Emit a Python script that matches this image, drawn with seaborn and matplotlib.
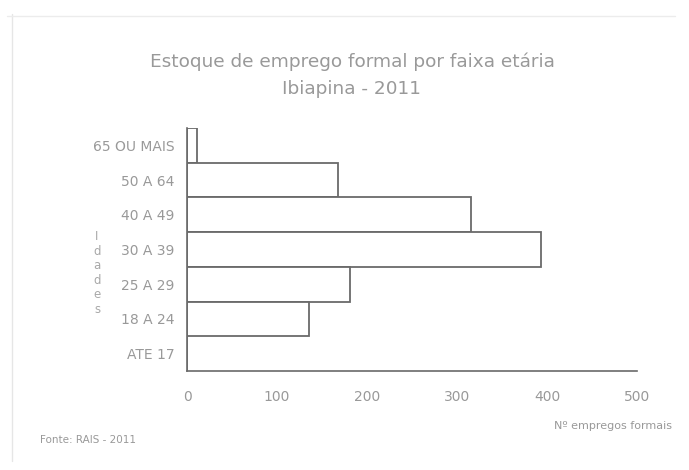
import matplotlib
matplotlib.use("Agg")
import matplotlib.pyplot as plt
import seaborn as sns
import pandas as pd

# ── Data ───────────────────────────────────────────────
faixas = ["65 OU MAIS", "50 A 64", "40 A 49", "30 A 39", "25 A 29", "18 A 24", "ATE 17"]
empregos = [11, 168, 316, 393, 181, 136, 0]
x_ticks = [0, 100, 200, 300, 400, 500]

df = pd.DataFrame({"faixa": faixas, "empregos": empregos})

sns.set_style("white")
plt.rcParams["font.family"] = ["DejaVu Sans"]
TXT = "#999999"

fig = plt.figure(figsize=(6.89, 4.70), dpi=100)
ax = fig.add_axes([187 / 689, 99 / 470, 450 / 689, 243 / 470])

sns.barplot(data=df, x="empregos", y="faixa", order=faixas, orient="h",
            color="white", edgecolor="#6a6a6a", linewidth=1.3, width=1.0, ax=ax)

ax.set_xlim(0, 500)
ax.set_xticks(x_ticks)
ax.set_xticklabels([str(t) for t in x_ticks], color=TXT, fontsize=10)
ax.tick_params(axis="x", length=0, pad=14)
ax.tick_params(axis="y", length=0, pad=9, labelsize=10, labelcolor=TXT)
ax.set_xlabel("")
ax.set_ylabel("")
for side in ["top", "right"]:
    ax.spines[side].set_visible(False)
for side in ["left", "bottom"]:
    ax.spines[side].set_color("#6a6a6a")
    ax.spines[side].set_linewidth(1.2)

# ── Texts ──────────────────────────────────────────────
fig.text(352 / 689, 1 - 62 / 470, "Estoque de emprego formal por faixa etária",
         ha="center", va="center", fontsize=13.3, color=TXT)
fig.text(352 / 689, 1 - 89 / 470, "Ibiapina - 2011", ha="center", va="center",
         fontsize=13.3, color=TXT)
fig.text(97 / 689, 1 - 273 / 470, "I\nd\na\nd\ne\ns", ha="center", va="center",
         fontsize=8.5, color="#a8a8a8", linespacing=1.15)
fig.text(40 / 689, 1 - 440 / 470, "Fonte: RAIS - 2011", ha="left", va="center",
         fontsize=7.5, color=TXT)
fig.text(672 / 689, 1 - 426 / 470, "Nº empregos formais", ha="right", va="center",
         fontsize=8, color=TXT)

# faint frame of the scanned chart area
fig.add_artist(plt.Line2D([12 / 689, 12 / 689], [0.02, 0.97], color="#e6e6e6", lw=1))
fig.add_artist(plt.Line2D([0.01, 0.98], [1 - 16 / 470, 1 - 16 / 470], color="#ececec", lw=1))

fig.savefig("out.png", dpi=100)
